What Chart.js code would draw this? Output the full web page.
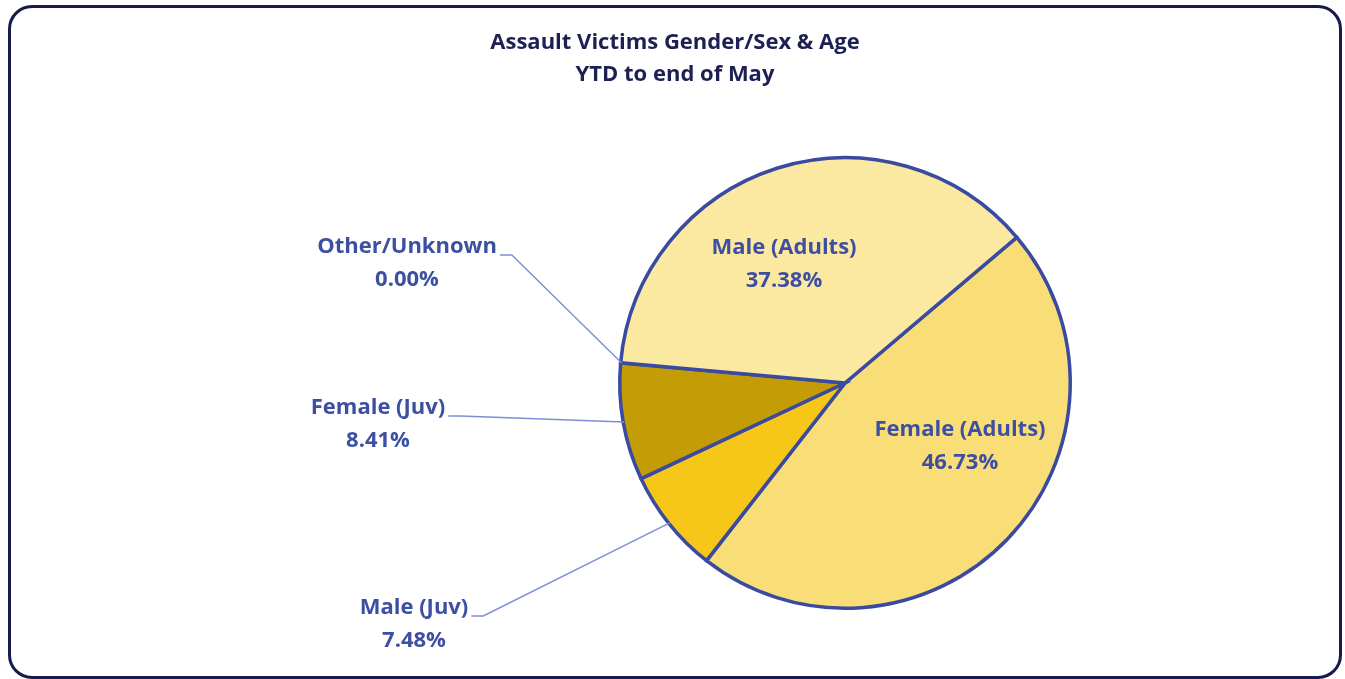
<!DOCTYPE html>
<html>
<head>
<meta charset="utf-8">
<script src="https://cdn.jsdelivr.net/npm/chart.js@4.4.1/dist/chart.umd.min.js"></script>
<style>
  html, body { margin:0; padding:0; background:#fff; }
  #wrap { position:absolute; left:0; top:0; width:1345px; height:679px; }
  #frame { position:absolute; left:8px; top:5px; width:1328px; height:668px;
    border:3px solid #161a4c; border-radius:24px; pointer-events:none; }
</style>
</head>
<body>
<div id="wrap">
  <canvas id="pie" width="1345" height="679"></canvas>
  <div id="frame"></div>
</div>
<script>
const LABELS = ["Female (Adults)", "Male (Juv)", "Female (Juv)", "Other/Unknown", "Male (Adults)"];
const VALUES = [46.73, 7.48, 8.41, 0.00, 37.38];
const COLORS = ["#f9de78", "#f6c719", "#c49c05", "#d9d9d9", "#fce9a1"];
const TITLE_LINES = ["Assault Victims Gender/Sex & Age", "YTD to end of May"];

// label placement relative to pie centre; outside ones get a leader line
const LABEL_POS = [
  {dx:115, dy:63, out:false},
  {dx:-431, dy:241, out:true},
  {dx:-467, dy:41, out:true},
  {dx:-438, dy:-120, out:true},
  {dx:-61, dy:-119, out:false},
];

const FONT = "'Open Sans', sans-serif";
const TXT = "#3d4fa2";

const labelPlugin = {
  id:"pieLabels",
  afterDraw(chart){
    const ctx = chart.ctx;
    ctx.save();
    // title
    ctx.fillStyle = "#1c2052";
    ctx.font = "bold 22px " + FONT;
    ctx.textAlign = "center";
    ctx.textBaseline = "middle";
    TITLE_LINES.forEach((t,i)=> ctx.fillText(t, 675, 43 + i*32));

    const arcs = chart.getDatasetMeta(0).data;
    ctx.font = "bold 22px " + FONT;
    arcs.forEach((arc,i)=>{
      const p = LABEL_POS[i];
      const cx = arc.x + p.dx, cy = arc.y + p.dy;
      const l1 = LABELS[i], l2 = VALUES[i].toFixed(2) + "%";
      ctx.fillStyle = TXT;
      ctx.fillText(l1, cx, cy - 16);
      ctx.fillText(l2, cx, cy + 17);
      if(p.out){
        const w = ctx.measureText(l1).width;
        const sx = cx + w/2 + 3, sy = cy - 8;
        const mid = (arc.startAngle + arc.endAngle)/2;
        const r = arc.outerRadius - 1;
        const ex = arc.x + Math.cos(mid)*r, ey = arc.y + Math.sin(mid)*r;
        ctx.strokeStyle = "#7d8fd4";
        ctx.lineWidth = 1.4;
        ctx.beginPath();
        ctx.moveTo(sx, sy);
        ctx.lineTo(sx + 12, sy);
        ctx.lineTo(ex, ey);
        ctx.stroke();
      }
    });
    ctx.restore();
  }
};

new Chart(document.getElementById("pie"), {
  type:"pie",
  data:{
    labels:LABELS,
    datasets:[{
      data:VALUES,
      backgroundColor:COLORS,
      borderColor:"#3a4aa0",
      borderWidth:3.5,
      borderJoinStyle:"miter"
    }]
  },
  options:{
    responsive:false,
    animation:false,
    rotation:49.7,
    layout:{ padding:{ left:618, right:273, top:156, bottom:69 } },
    plugins:{
      legend:{ display:false },
      title:{ display:false },
      tooltip:{ enabled:false }
    }
  },
  plugins:[labelPlugin]
});
</script>
</body>
</html>
